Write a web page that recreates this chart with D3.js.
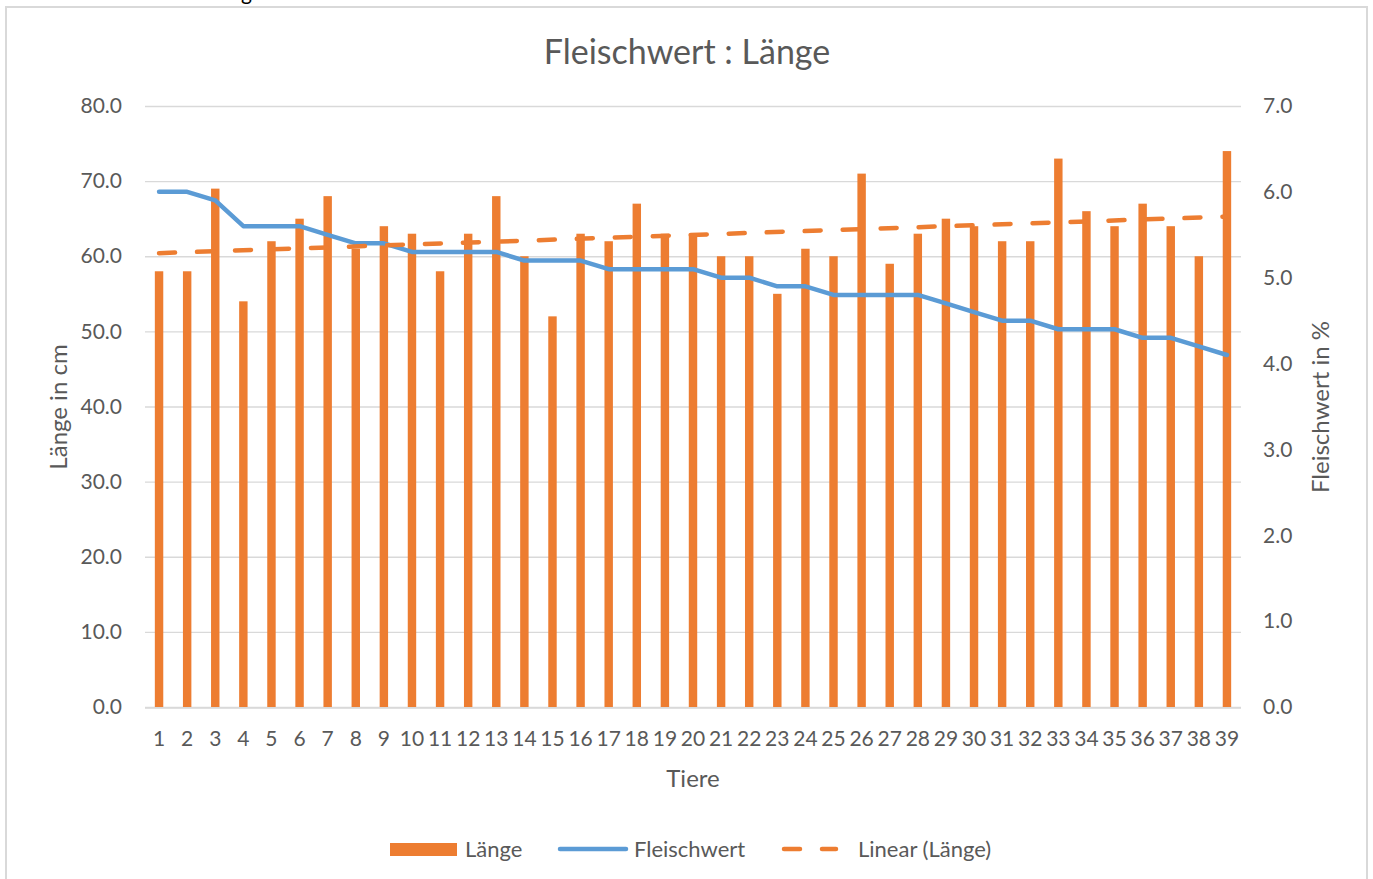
<!DOCTYPE html>
<html>
<head>
<meta charset="utf-8">
<script src="https://cdn.jsdelivr.net/npm/d3@7"></script>
<style>
  body { margin: 0; background: #fff; }
  text { font-family: Lato, "Open Sans", sans-serif; }
</style>
</head>
<body>
<svg width="1373" height="879"></svg>
<script>
// Tiere 1..39
let tiere = d3.range(1, 40).map(String);

// Länge in cm (bars, left axis)
let laenge = [58, 58, 69, 54, 62, 65, 68, 61, 64, 63,
              58, 63, 68, 60, 52, 63, 62, 67, 63, 63,
              60, 60, 55, 61, 60, 71, 59, 63, 65, 64,
              62, 62, 73, 66, 64, 67, 64, 60, 74];

// Fleischwert in % (line, right axis)
let fleischwert = [6.0, 6.0, 5.9, 5.6, 5.6, 5.6, 5.5, 5.4, 5.4, 5.3,
                   5.3, 5.3, 5.3, 5.2, 5.2, 5.2, 5.1, 5.1, 5.1, 5.1,
                   5.0, 5.0, 4.9, 4.9, 4.8, 4.8, 4.8, 4.8, 4.7, 4.6,
                   4.5, 4.5, 4.4, 4.4, 4.4, 4.3, 4.3, 4.2, 4.1];

let leftTicks = d3.range(0, 81, 10);
let rightTicks = d3.range(0, 8, 1);

let svg = d3.select("svg");

let orange = "#ED7D31", blue = "#5B9BD5", grid = "#D9D9D9", txt = "#595959";

// frame of the chart object (runs below the picture)
svg.append("rect")
    .attr("x", 6).attr("y", 7)
    .attr("width", 1361).attr("height", 900)
    .attr("fill", "#fff")
    .attr("stroke", grid)
    .attr("stroke-width", 2);

// leftover of a caption above the chart
svg.append("text")
    .attr("x", 252).attr("y", 0)
    .attr("text-anchor", "end")
    .attr("font-size", 21)
    .attr("fill", "#000")
    .text("Abbildung");

let x = d3.scaleBand()
    .domain(tiere)
    .range([145, 1241])
    .paddingInner(0.7)
    .paddingOuter(0.35);

let yL = d3.scaleLinear().domain([0, 80]).range([707, 106]);
let yR = d3.scaleLinear().domain([0, 7]).range([707, 106]);

// gridlines
svg.append("g")
    .selectAll("line")
    .data(leftTicks)
    .enter().append("line")
    .attr("x1", 145).attr("x2", 1241)
    .attr("y1", function(d) { return yL(d) + 0.5; })
    .attr("y2", function(d) { return yL(d) + 0.5; })
    .attr("stroke", grid)
    .attr("stroke-width", 1.3);

// axes (labels only, Excel style)
let axL = svg.append("g")
    .attr("transform", "translate(145,0)")
    .call(d3.axisLeft(yL).tickValues(leftTicks).tickFormat(d3.format(".1f")).tickSize(0).tickPadding(23));
let axR = svg.append("g")
    .attr("transform", "translate(1241,0)")
    .call(d3.axisRight(yR).tickValues(rightTicks).tickFormat(d3.format(".1f")).tickSize(0).tickPadding(22));
let axB = svg.append("g")
    .attr("transform", "translate(0,707)")
    .call(d3.axisBottom(x).tickSize(0).tickPadding(31));

[axL, axR, axB].forEach(function(a) {
    a.select(".domain").remove();
    a.selectAll("text").attr("font-size", 21).attr("fill", txt)
        .style("font-family", "Lato, sans-serif");
});
axB.selectAll("text").attr("dy", "0.4em");

// bars
svg.append("g")
    .selectAll("rect")
    .data(laenge)
    .enter().append("rect")
    .attr("x", function(d, i) { return x(tiere[i]); })
    .attr("y", function(d) { return yL(d); })
    .attr("width", x.bandwidth())
    .attr("height", function(d) { return yL(0) - yL(d); })
    .attr("fill", orange);

// bottom axis line
svg.append("line")
    .attr("x1", 145).attr("x2", 1241)
    .attr("y1", 708).attr("y2", 708)
    .attr("stroke", grid)
    .attr("stroke-width", 1.5);

let cx = function(i) { return x(tiere[i]) + x.bandwidth() / 2; };

// Fleischwert line
svg.append("path")
    .datum(fleischwert)
    .attr("fill", "none")
    .attr("stroke", blue)
    .attr("stroke-width", 4.5)
    .attr("stroke-linejoin", "round")
    .attr("stroke-linecap", "round")
    .attr("d", d3.line()
        .x(function(d, i) { return cx(i); })
        .y(function(d) { return yR(d); }));

// linear trend of Länge (least squares over 1..n)
let n = laenge.length;
let xs = d3.range(1, n + 1);
let mx = d3.mean(xs), my = d3.mean(laenge);
let slope = d3.sum(xs, function(v, i) { return (v - mx) * (laenge[i] - my); }) /
            d3.sum(xs, function(v) { return (v - mx) * (v - mx); });
let icpt = my - slope * mx;
let trend = [0, n - 1].map(function(i) { return { i: i, v: icpt + slope * (i + 1) }; });

svg.append("path")
    .datum(trend)
    .attr("fill", "none")
    .attr("stroke", orange)
    .attr("stroke-width", 4.5)
    .attr("stroke-linecap", "round")
    .attr("stroke-dasharray", "16,22")
    .attr("d", d3.line()
        .x(function(d) { return cx(d.i); })
        .y(function(d) { return yL(d.v); }));

// titles
svg.append("text")
    .attr("x", 687).attr("y", 64)
    .attr("text-anchor", "middle")
    .attr("font-size", 34)
    .attr("fill", txt)
    .text("Fleischwert : Länge");

svg.append("text")
    .attr("transform", "translate(67,407) rotate(-90)")
    .attr("text-anchor", "middle")
    .attr("font-size", 24)
    .attr("fill", txt)
    .text("Länge in cm");

svg.append("text")
    .attr("transform", "translate(1329,407) rotate(-90)")
    .attr("text-anchor", "middle")
    .attr("font-size", 24)
    .attr("fill", txt)
    .text("Fleischwert in %");

svg.append("text")
    .attr("x", 693).attr("y", 787)
    .attr("text-anchor", "middle")
    .attr("font-size", 24)
    .attr("fill", txt)
    .text("Tiere");

// legend
let lg = svg.append("g");
lg.append("rect")
    .attr("x", 390).attr("y", 843)
    .attr("width", 67).attr("height", 13)
    .attr("fill", orange);
lg.append("text")
    .attr("x", 465).attr("y", 857)
    .attr("font-size", 22).attr("fill", txt)
    .text("Länge");
lg.append("line")
    .attr("x1", 560).attr("x2", 626)
    .attr("y1", 849).attr("y2", 849)
    .attr("stroke", blue).attr("stroke-width", 4.5)
    .attr("stroke-linecap", "round");
lg.append("text")
    .attr("x", 634).attr("y", 857)
    .attr("font-size", 22).attr("fill", txt)
    .text("Fleischwert");
lg.append("line")
    .attr("x1", 784).attr("x2", 836)
    .attr("y1", 849).attr("y2", 849)
    .attr("stroke", orange).attr("stroke-width", 4.5)
    .attr("stroke-linecap", "round")
    .attr("stroke-dasharray", "16,22");
lg.append("text")
    .attr("x", 858).attr("y", 857)
    .attr("font-size", 22).attr("fill", txt)
    .text("Linear (Länge)");
</script>
</body>
</html>
